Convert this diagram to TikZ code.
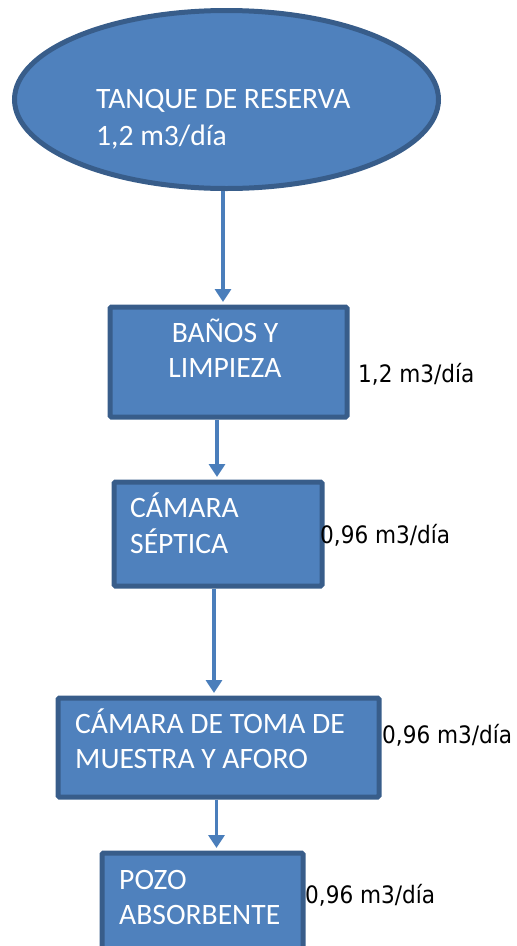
\documentclass[tikz,border=0pt]{standalone}
\usepackage{fontspec}
\setmainfont{Carlito}
\newfontfamily\labfont[FakeStretch=0.9]{DejaVu Sans}
\usetikzlibrary{arrows.meta,shapes.geometric}
\definecolor{boxfill}{HTML}{4F81BD}
\definecolor{boxline}{HTML}{385D8A}
\definecolor{arrcol}{HTML}{4A7EBB}
\tikzset{
  box/.style={draw=boxline, fill=boxfill, line width=5pt, rounded corners=1.5pt, inner sep=0pt, anchor=north west},
  wtxt/.style={text=white, font=\fontsize{29.6}{35}\selectfont, inner sep=0pt},
  ltxt/.style={text=black, font=\labfont\fontsize{24}{29}\selectfont, inner sep=0pt, anchor=base west},
  arr/.style={draw=arrcol, line width=3.5pt, -{Triangle[width=16pt,length=13pt]}}
}
\begin{document}
\begin{tikzpicture}[x=1pt,y=-1pt]
\useasboundingbox (0,0) rectangle (517,946);
\clip (0,0) rectangle (517,946);
% tank
\node[ellipse, draw=boxline, fill=boxfill, line width=5pt, minimum width=424pt, minimum height=178pt, inner sep=0pt] (tank) at (226.5,99.5) {};
\node[wtxt, anchor=base west] (tanka) at (96,108) {TANQUE DE RESERVA};
\node[wtxt, anchor=base west] (tankb) at (96,145) {1,2 m3/día};
% boxes
\node[box, minimum width=237pt, minimum height=110pt] (b1) at (107.5,304.5) {};
\node[wtxt, anchor=base] (b1a) at (225,342) {BAÑOS Y};
\node[wtxt, anchor=base] (b1b) at (225,377) {LIMPIEZA};
\node[box, minimum width=208pt, minimum height=104pt] (b2) at (111.5,479.5) {};
\node[wtxt, anchor=base west] (b2a) at (130,517) {CÁMARA};
\node[wtxt, anchor=base west] (b2b) at (130,553) {SÉPTICA};
\node[box, minimum width=321pt, minimum height=99pt] (b3) at (55.5,695.5) {};
\node[wtxt, anchor=base west] (b3a) at (75,733) {CÁMARA DE TOMA DE};
\node[wtxt, anchor=base west] (b3b) at (75,768) {MUESTRA Y AFORO};
\node[box, minimum width=201pt, minimum height=130pt] (b4) at (99.5,850.5) {};
\node[wtxt, anchor=base west] (b4a) at (119,889) {POZO};
\node[wtxt, anchor=base west] (b4b) at (119,924) {ABSORBENTE};
% labels
\node[ltxt] (l1) at (358,382) {1,2 m3/día};
\node[ltxt] (l2) at (320,543) {0,96 m3/día};
\node[ltxt] (l3) at (382,743) {0,96 m3/día};
\node[ltxt] (l4) at (305,903) {0,96 m3/día};
% arrows
\coordinate (x1) at (223,0);
\coordinate (x2) at (217,0);
\coordinate (x3) at (214,0);
\coordinate (x4) at (216.5,0);
\draw[arr] (tank.south -| x1) -- ([yshift=2.5pt]b1.north -| x1);
\draw[arr] (b1.south -| x2) -- ([yshift=2.5pt]b2.north -| x2);
\draw[arr] (b2.south -| x3) -- ([yshift=2.5pt]b3.north -| x3);
\draw[arr] (b3.south -| x4) -- ([yshift=2.5pt]b4.north -| x4);
\end{tikzpicture}
\end{document}
